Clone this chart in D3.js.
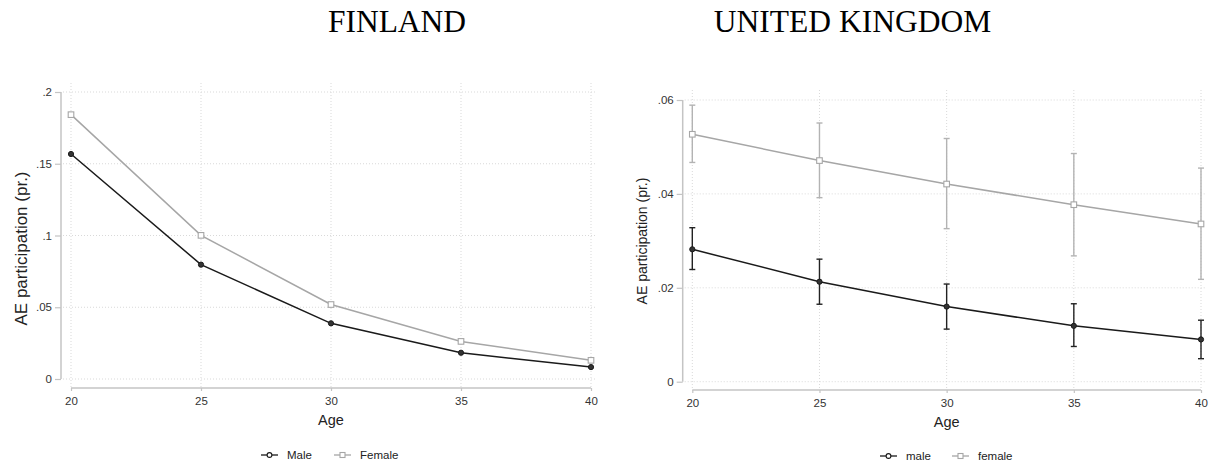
<!DOCTYPE html>
<html>
<head>
<meta charset="utf-8">
<script src="https://cdn.jsdelivr.net/npm/d3@7"></script>
<style>
  html, body { margin: 0; padding: 0; background: #fff; }
  svg { display: block; }
  text { font-family: "Liberation Sans", Arial, sans-serif; fill: #222; }
  .title { font-family: "Liberation Serif", "Times New Roman", serif; fill: #000; }
</style>
</head>
<body>
<svg id="chart" width="1209" height="468"></svg>
<script>
// Age groups on the x axis
const ages = [20, 25, 30, 35, 40];

// Finland: predicted adult-education participation by sex
const finMale   = [0.1568, 0.0797, 0.0388, 0.0183, 0.0083];
const finFemale = [0.1842, 0.1001, 0.0519, 0.0262, 0.0130];
const finYTicks = [0, 0.05, 0.1, 0.15, 0.2];
const finYLabels = ["0", ".05", ".1", ".15", ".2"];

// United Kingdom: predictions with confidence intervals
const ukMale     = [0.0282, 0.0213, 0.0160, 0.0119, 0.0090];
const ukMaleLo   = [0.0239, 0.0165, 0.0112, 0.0075, 0.0049];
const ukMaleHi   = [0.0328, 0.0261, 0.0208, 0.0166, 0.0131];
const ukFemale   = [0.0527, 0.0471, 0.0421, 0.0377, 0.0336];
const ukFemaleLo = [0.0467, 0.0392, 0.0326, 0.0268, 0.0218];
const ukFemaleHi = [0.0589, 0.0551, 0.0518, 0.0486, 0.0455];
const ukYTicks = [0, 0.02, 0.04, 0.06];
const ukYLabels = ["0", ".02", ".04", ".06"];

const svg = d3.select("#chart");
const MALE = "#1a1a1a", FEMALE = "#a6a6a6", AXIS = "#c4c4c4", GRID = "#d9d9d9";

function panel(opt) {
  const g = svg.append("g");
  const x = d3.scaleLinear().domain([20, 40]).range(opt.xr);
  const y = d3.scaleLinear().domain(opt.yd).range(opt.yr);

  // title
  svg.append("text").attr("class", "title")
    .attr("x", opt.titleX).attr("y", 32.3)
    .attr("text-anchor", "middle").style("font-size", "31.5px")
    .text(opt.title);

  // dotted grid
  g.append("g").selectAll("line").data(ages).join("line")
    .attr("x1", d => x(d)).attr("x2", d => x(d))
    .attr("y1", opt.gridTop).attr("y2", opt.xAxisY - 1)
    .attr("stroke", GRID).attr("stroke-width", 1).attr("stroke-dasharray", "1,2");
  g.append("g").selectAll("line").data(opt.yTicks).join("line")
    .attr("x1", opt.yAxisX + 2).attr("x2", opt.gridRight)
    .attr("y1", d => y(d)).attr("y2", d => y(d))
    .attr("stroke", GRID).attr("stroke-width", 1).attr("stroke-dasharray", "1,2");

  // y axis
  const yAxis = d3.axisLeft(y).tickValues(opt.yTicks)
    .tickFormat((d, i) => opt.yLabels[i]).tickSize(6).tickPadding(3);
  const ya = g.append("g").attr("transform", `translate(${opt.yAxisX},0)`).call(yAxis);
  ya.select(".domain").attr("d", `M0,${y(opt.yTicks[opt.yTicks.length - 1])}V${y(0)}`)
    .attr("stroke", AXIS).attr("stroke-width", 1.5);
  ya.selectAll(".tick line").attr("stroke", AXIS).attr("stroke-width", 1.2);
  ya.selectAll(".tick text").style("font-size", "11.5px").style("fill", "#333")
    .style("font-family", "'Liberation Sans', Arial, sans-serif");

  // x axis
  const xAxis = d3.axisBottom(x).tickValues(ages).tickSize(3).tickPadding(6);
  const xa = g.append("g").attr("transform", `translate(0,${opt.xAxisY})`).call(xAxis);
  xa.select(".domain").attr("d", `M${x(20)},0H${x(40)}`)
    .attr("stroke", AXIS).attr("stroke-width", 1.5);
  xa.selectAll(".tick line").attr("stroke", AXIS).attr("stroke-width", 1.2);
  xa.selectAll(".tick text").style("font-size", "11.5px").style("fill", "#333")
    .style("font-family", "'Liberation Sans', Arial, sans-serif");

  // axis titles
  g.append("text").attr("transform", `translate(${opt.yLabelX},${opt.yLabelY}) rotate(-90)`)
    .attr("text-anchor", "middle").style("font-size", opt.yLabelSize)
    .text("AE participation (pr.)");
  g.append("text").attr("x", x(30)).attr("y", opt.xLabelY)
    .attr("text-anchor", "middle").style("font-size", "14.5px").text("Age");

  // confidence intervals
  function ci(lo, hi, color) {
    const eb = g.append("g").attr("stroke", color).attr("stroke-width", 1.4);
    ages.forEach((a, i) => {
      eb.append("line").attr("x1", x(a)).attr("x2", x(a)).attr("y1", y(lo[i])).attr("y2", y(hi[i]));
      [lo[i], hi[i]].forEach(v => eb.append("line")
        .attr("x1", x(a) - 3).attr("x2", x(a) + 3).attr("y1", y(v)).attr("y2", y(v)));
    });
  }
  if (opt.femaleLo) ci(opt.femaleLo, opt.femaleHi, "#b3b3b3");
  if (opt.maleLo) ci(opt.maleLo, opt.maleHi, "#222");

  const line = d3.line().x((d, i) => x(ages[i])).y(d => y(d));

  // female series
  g.append("path").datum(opt.female).attr("d", line)
    .attr("fill", "none").attr("stroke", FEMALE).attr("stroke-width", 1.5);
  g.append("g").selectAll("rect").data(opt.female).join("rect")
    .attr("x", (d, i) => x(ages[i]) - 2.8).attr("y", d => y(d) - 2.8)
    .attr("width", 5.6).attr("height", 5.6)
    .attr("fill", "#fff").attr("stroke", FEMALE).attr("stroke-width", 1.1);

  // male series
  g.append("path").datum(opt.male).attr("d", line)
    .attr("fill", "none").attr("stroke", MALE).attr("stroke-width", 1.5);
  g.append("g").selectAll("circle").data(opt.male).join("circle")
    .attr("cx", (d, i) => x(ages[i])).attr("cy", d => y(d)).attr("r", 2.6)
    .attr("fill", "#333").attr("stroke", MALE).attr("stroke-width", 1);

  // legend
  const lg = g.append("g").attr("transform", `translate(0,${opt.legendY})`);
  const items = opt.legend;
  items.forEach(it => {
    lg.append("line").attr("x1", it.x).attr("x2", it.x + 17).attr("y1", -4).attr("y2", -4)
      .attr("stroke", it.color).attr("stroke-width", 1.3);
    if (it.shape === "circle") {
      lg.append("circle").attr("cx", it.x + 8.5).attr("cy", -4).attr("r", 2.4)
        .attr("fill", "#fff").attr("stroke", it.color).attr("stroke-width", 1.1);
    } else {
      lg.append("rect").attr("x", it.x + 6).attr("y", -6.5).attr("width", 5).attr("height", 5)
        .attr("fill", "#fff").attr("stroke", it.color).attr("stroke-width", 1.1);
    }
    lg.append("text").attr("x", it.x + 26).attr("y", 0).style("font-size", "11.5px")
      .style("fill", "#222").text(it.label);
  });
}

panel({
  title: "FINLAND", titleX: 397,
  xr: [71, 591], yd: [0, 0.2], yr: [379, 92],
  yTicks: finYTicks, yLabels: finYLabels,
  yAxisX: 61, xAxisY: 388, gridTop: 83, gridRight: 596,
  yLabelX: 27, yLabelY: 248.5, yLabelSize: "17px", xLabelY: 425,
  male: finMale, female: finFemale,
  legendY: 459,
  legend: [
    { x: 261, label: "Male", color: MALE, shape: "circle" },
    { x: 334, label: "Female", color: FEMALE, shape: "square" }
  ]
});

panel({
  title: "UNITED KINGDOM", titleX: 852.5,
  xr: [692.3, 1201], yd: [0, 0.06], yr: [381.7, 100],
  yTicks: ukYTicks, yLabels: ukYLabels,
  yAxisX: 682.7, xAxisY: 390, gridTop: 90, gridRight: 1206,
  yLabelX: 647, yLabelY: 241, yLabelSize: "14px", xLabelY: 427,
  male: ukMale, female: ukFemale,
  maleLo: ukMaleLo, maleHi: ukMaleHi, femaleLo: ukFemaleLo, femaleHi: ukFemaleHi,
  legendY: 460,
  legend: [
    { x: 880, label: "male", color: MALE, shape: "circle" },
    { x: 952, label: "female", color: FEMALE, shape: "square" }
  ]
});
</script>
</body>
</html>
